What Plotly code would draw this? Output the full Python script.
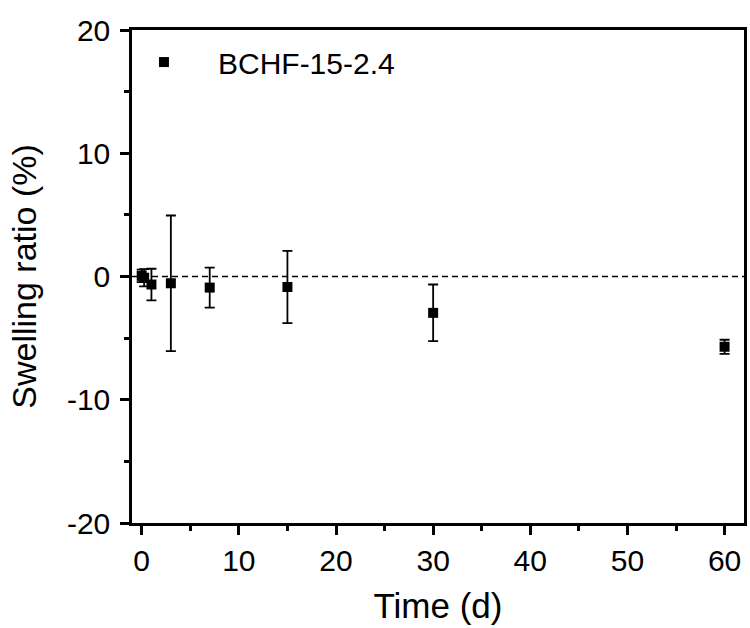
import plotly.graph_objects as go

# Data
time_d = [0, 0.25, 1, 3, 7, 15, 30, 60]
swelling = [0.05, -0.1, -0.65, -0.55, -0.9, -0.85, -2.95, -5.7]
swelling_err = [0.5, 0.7, 1.28, 5.5, 1.62, 2.93, 2.3, 0.57]
series_name = "BCHF-15-2.4"
x_ticks = [0, 10, 20, 30, 40, 50, 60]
y_ticks = [-20, -10, 0, 10, 20]
y_tick_labels = ["-20", "-10", "0", "10", "20"]

FONT = "Liberation Sans, Arial, sans-serif"

fig = go.Figure()
fig.add_trace(go.Scatter(
    x=time_d, y=swelling, mode="markers", name=series_name,
    marker=dict(symbol="square", size=10, color="black"),
    error_y=dict(type="data", array=swelling_err, visible=True,
                 color="black", thickness=1.8, width=5),
))

fig.add_shape(type="line", xref="paper", yref="y", x0=0, x1=1, y0=0, y1=0,
              line=dict(color="black", width=1.5, dash="6px,4px"), layer="below")

axis_common = dict(
    showline=True, linecolor="black", linewidth=2.5, mirror=True,
    ticks="outside", ticklen=9, tickwidth=2.5, tickcolor="black",
    showgrid=False, zeroline=False,
    tickfont=dict(family=FONT, size=30, color="black"),
)

fig.update_xaxes(
    range=[-1, 62], tickvals=x_ticks,
    minor=dict(ticks="outside", ticklen=5, tickwidth=2.5, tickcolor="black", dtick=5, tick0=0),
    title=dict(text="Time (d)", font=dict(family=FONT, size=35, color="black"), standoff=18),
    **axis_common,
)
fig.update_yaxes(
    range=[-20, 20], tickvals=y_ticks, ticktext=y_tick_labels,
    minor=dict(ticks="outside", ticklen=5, tickwidth=2.5, tickcolor="black", dtick=5, tick0=0),
    title=dict(text="Swelling ratio (%)", font=dict(family=FONT, size=34, color="black"), standoff=20),
    ticklabelstandoff=4,
    **axis_common,
)

fig.update_layout(
    width=750, height=628,
    margin=dict(l=132, r=3, t=30, b=105),
    paper_bgcolor="white", plot_bgcolor="white",
    font=dict(family=FONT, color="black"),
    showlegend=True,
    legend=dict(x=-0.036, y=0.935, xanchor="left", yanchor="middle",
                itemwidth=98, bgcolor="rgba(0,0,0,0)",
                font=dict(family=FONT, size=30, color="black")),
)

fig.write_html("out.html")
